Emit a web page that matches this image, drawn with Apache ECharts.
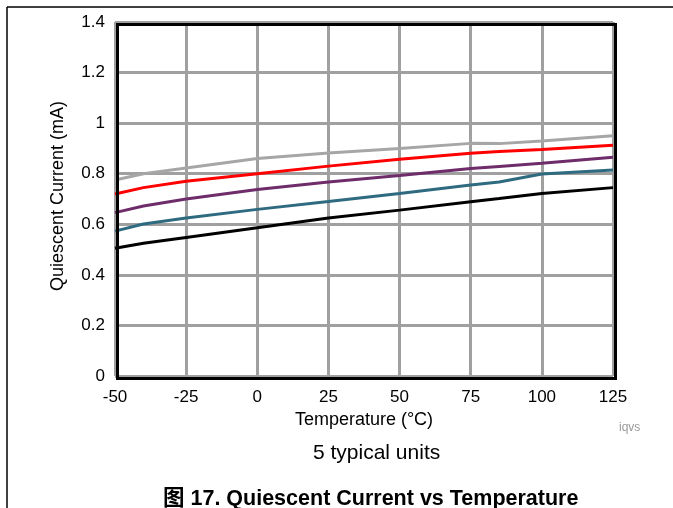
<!DOCTYPE html>
<html>
<head>
<meta charset="utf-8">
<script src="https://cdn.jsdelivr.net/npm/echarts@6/dist/echarts.min.js"></script>
<style>
  html, body { margin: 0; padding: 0; background: #fff; }
  #main { width: 673px; height: 508px; }
</style>
</head>
<body>
<div id="main"></div>
<script>
// temperatures (°C) where the curves were read
var temps = [-50, -40, -25, 0, 25, 50, 75, 85, 100, 125];
// quiescent current (mA) for 5 typical units
var unitGray   = [0.775, 0.800, 0.823, 0.860, 0.882, 0.900, 0.920, 0.919, 0.929, 0.950];
var unitRed    = [0.720, 0.745, 0.770, 0.800, 0.830, 0.857, 0.881, 0.888, 0.896, 0.913];
var unitPurple = [0.646, 0.672, 0.700, 0.738, 0.767, 0.793, 0.821, 0.829, 0.841, 0.865];
var unitTeal   = [0.573, 0.601, 0.625, 0.659, 0.690, 0.722, 0.755, 0.767, 0.799, 0.815];
var unitBlack  = [0.505, 0.525, 0.548, 0.586, 0.625, 0.656, 0.689, 0.702, 0.722, 0.745];

var units = [
  { data: unitGray, color: '#a6a6a6' },
  { data: unitRed, color: '#ff0000' },
  { data: unitPurple, color: '#6e2c6a' },
  { data: unitTeal, color: '#2e6a80' },
  { data: unitBlack, color: '#000000' }
];

var font = 'Liberation Sans, Arial, sans-serif';
var chart = echarts.init(document.getElementById('main'));

var series = units.map(function (u) {
  return {
    type: 'line',
    data: temps.map(function (t, i) { return [t, u.data[i]]; }),
    showSymbol: false,
    smooth: false,
    lineStyle: { color: u.color, width: 3 },
    z: 5
  };
});

var option = {
  animation: false,
  backgroundColor: '#fff',
  grid: { left: 115, right: 60, top: 22, bottom: 132 },
  xAxis: {
    type: 'value', min: -50, max: 125, interval: 25,
    name: 'Temperature (°C)', nameLocation: 'middle', nameGap: 34,
    nameTextStyle: { color: '#000', fontSize: 18, fontFamily: font },
    axisLine: { show: false }, axisTick: { show: false },
    axisLabel: { color: '#000', fontSize: 17, fontFamily: font, margin: 13 },
    splitLine: { lineStyle: { color: '#a0a0a0', width: 3 } }
  },
  yAxis: {
    type: 'value', min: 0, max: 1.4, interval: 0.2,
    name: 'Quiescent Current (mA)', nameLocation: 'middle', nameGap: 48, nameRotate: 90,
    nameTextStyle: { color: '#000', fontSize: 18, fontFamily: font, padding: [0, 0, 0, 6] },
    axisLine: { show: false }, axisTick: { show: false },
    axisLabel: { color: '#000', fontSize: 17, fontFamily: font, margin: 10 },
    splitLine: { lineStyle: { color: '#a0a0a0', width: 3 } }
  },
  series: series,
  graphic: [
    { type: 'rect', left: 115, top: 22, z: 100, silent: true,
      shape: { width: 498, height: 354 },
      style: { fill: null, stroke: '#000', lineWidth: 3 } },
    { type: 'line', z: 100, shape: { x1: 7, y1: 7, x2: 673, y2: 7 }, style: { stroke: '#000', lineWidth: 1.5 } },
    { type: 'line', z: 100, shape: { x1: 7, y1: 7, x2: 7, y2: 508 }, style: { stroke: '#000', lineWidth: 1.5 } },
    { type: 'text', left: 619, top: 422,
      style: { text: 'iqvs', fill: '#999', fontSize: 12, fontFamily: font } },
    { type: 'text', left: 313, top: 443,
      style: { text: '5 typical units', fill: '#000', fontSize: 21, fontFamily: font } },
    { type: 'text', left: 163, top: 488,
      style: { text: '图 17. Quiescent Current vs Temperature', fill: '#000', fontSize: 21.5, fontWeight: 'bold', fontFamily: 'Liberation Sans, Noto Sans CJK SC, sans-serif' } }
  ]
};

chart.setOption(option);
</script>
</body>
</html>
